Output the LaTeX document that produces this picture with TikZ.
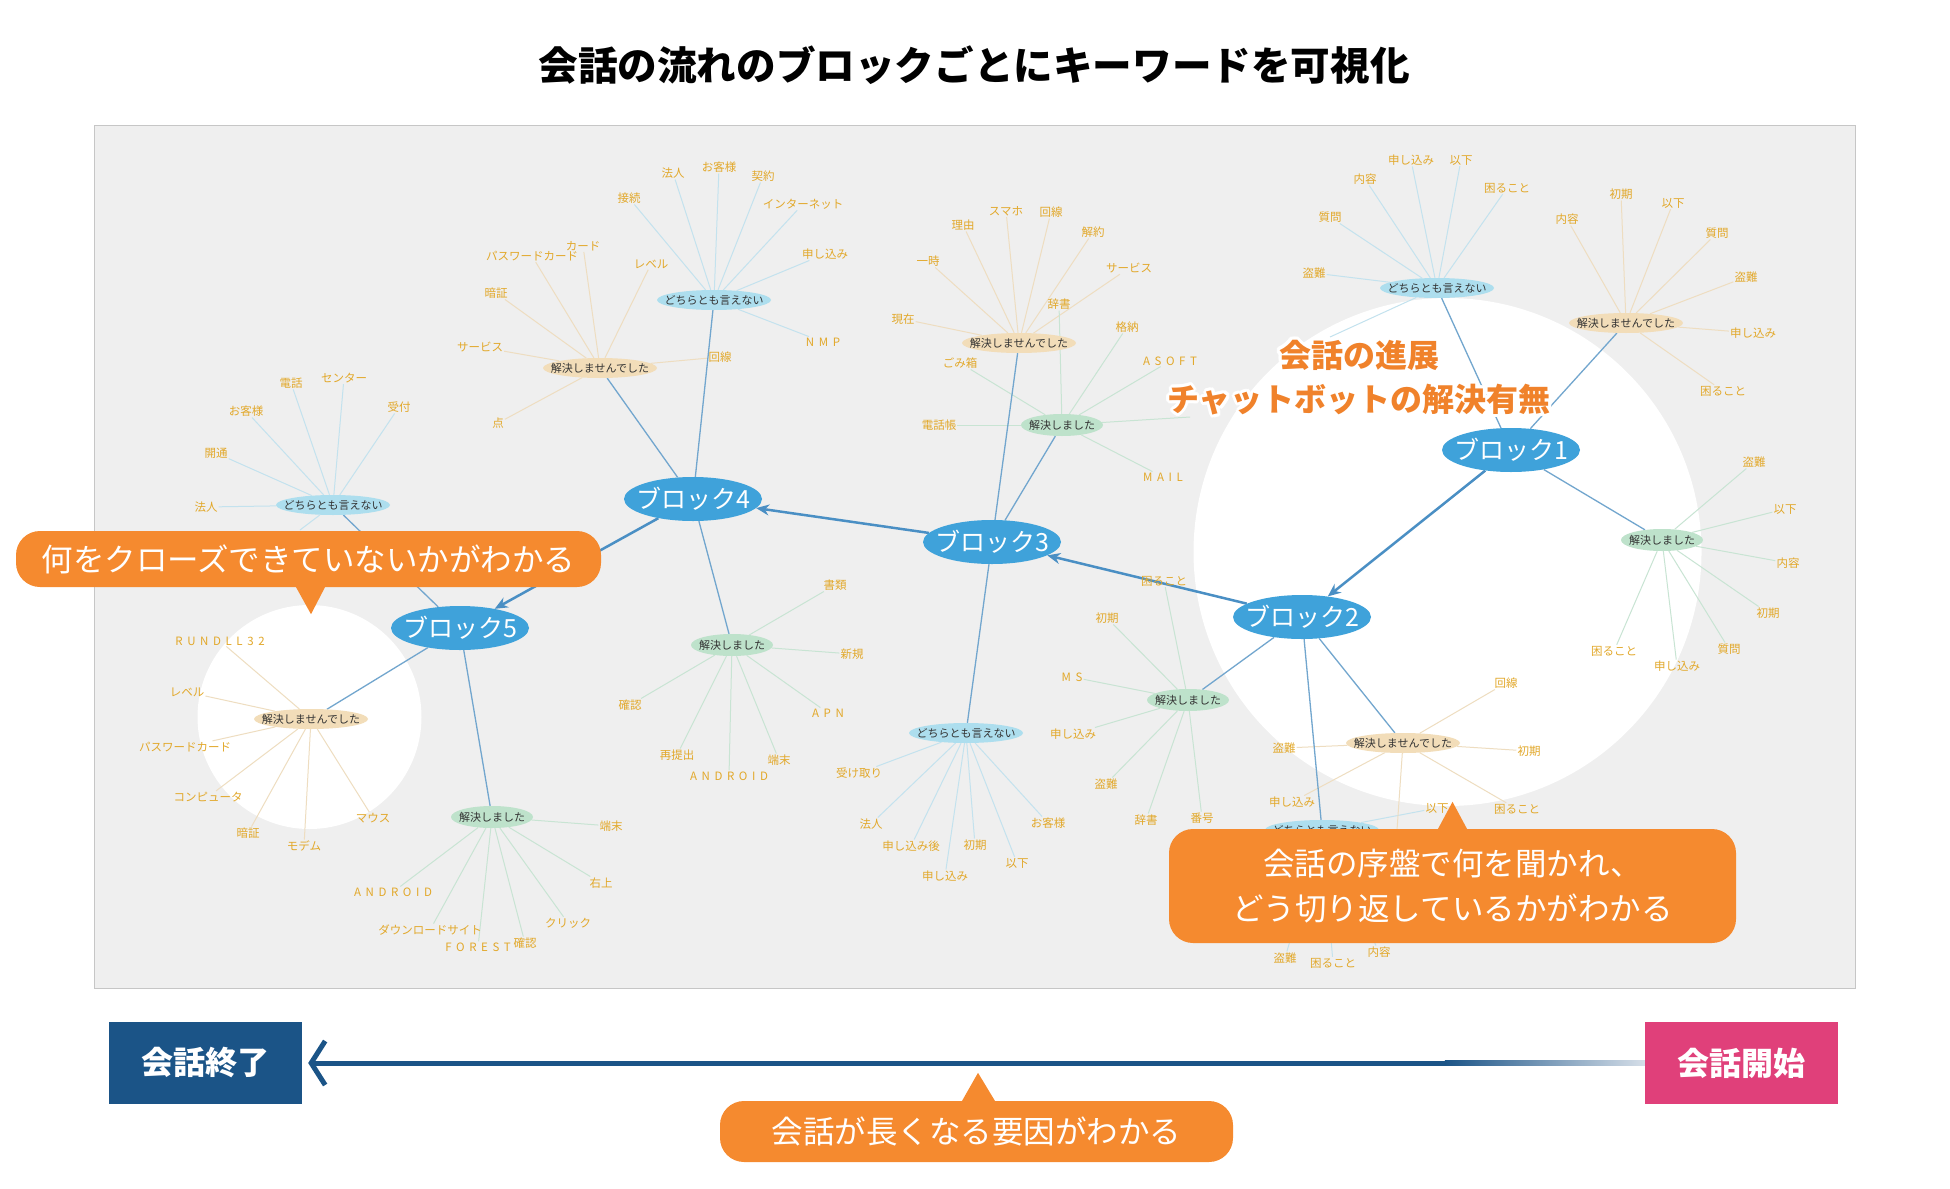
\documentclass[tikz,border=0pt]{standalone}
\usepackage{fontspec}
\setmainfont{Noto Sans CJK JP}
\newfontfamily\spacedlatin[LetterSpace=40]{Noto Sans CJK JP}
\usepackage{contour}
\usepackage{tikz}
\usetikzlibrary{arrows.meta,backgrounds,calc,shapes.geometric}
\definecolor{panelgray}{HTML}{EFEFEF}
\definecolor{panelline}{HTML}{C6C6C6}
\definecolor{blockblue}{HTML}{3FA2DA}
\definecolor{flowblue}{HTML}{4A8FC4}
\definecolor{stemblue}{HTML}{72A6CE}
\definecolor{kwgold}{HTML}{E2A82A}
\definecolor{catblue}{HTML}{ADDEEE}
\definecolor{cattan}{HTML}{F2DDB9}
\definecolor{catgreen}{HTML}{BEE2CB}
\definecolor{lineblue}{HTML}{C3E2EE}
\definecolor{linetan}{HTML}{EEDDC0}
\definecolor{linegreen}{HTML}{C8E4D3}
\definecolor{calloutorange}{HTML}{F58A2F}
\definecolor{headorange}{HTML}{F0822B}
\definecolor{endblue}{HTML}{1B5487}
\definecolor{startpink}{HTML}{E0407A}
\definecolor{fadeblue}{HTML}{D5DEE8}
\contourlength{3pt}

\begin{document}
\begin{tikzpicture}[x=1pt,y=-1pt,
  blk/.style={ellipse,fill=blockblue,text=white,minimum width=138,
             minimum height=44,inner sep=0pt,font=\fontsize{25}{29}\selectfont},
  catb/.style={ellipse,fill=catblue,minimum width=114,minimum height=20,
              inner sep=0pt,text=black!80,font=\fontsize{11}{13}\selectfont},
  catt/.style={catb,fill=cattan},
  catg/.style={catb,fill=catgreen,minimum width=82,minimum height=22},
  kw/.style={text=kwgold,inner sep=1pt,font=\fontsize{11.5}{13}\selectfont},
  lb/.style={lineblue,line width=1pt},
  lt/.style={linetan,line width=1pt},
  lg/.style={linegreen,line width=1pt},
  stem/.style={stemblue,line width=1.3pt},
  flow/.style={flowblue,line width=2.5pt,-{Stealth[length=13pt,width=11pt]}},
  call/.style={fill=calloutorange,text=white,rounded corners=24pt,inner sep=0pt,
              font=\fontsize{31.5}{45}\selectfont,align=center},
  stage/.style={text=white,inner sep=0pt,minimum width=193,minimum height=82,
               font=\bfseries\fontsize{32}{36}\selectfont},
  adv/.style={text=headorange,font=\bfseries\fontsize{32}{36}\selectfont}
]
\useasboundingbox (0,0) rectangle (1950,1188);

\begin{scope}[on background layer]
  \draw[fill=panelgray,draw=panelline,line width=1.5pt] (94.5,125.6) rectangle (1855.5,988.7);
  \fill[white] (1447.5,552) circle[radius=254pt];
  \fill[white] (309.5,717) circle[radius=112pt];
\end{scope}

\node[font=\bfseries\fontsize{39.6}{45}\selectfont] (title) at (974,65)
  {会話の流れのブロックごとにキーワードを可視化};

% blocks
\node[blk] (b1) at (1511,450) {\makebox[0pt]{ブロック1}};
\node[blk] (b2) at (1302,617) {\makebox[0pt]{ブロック2}};
\node[blk] (b3) at (992,542) {\makebox[0pt]{ブロック3}};
\node[blk] (b4) at (693,499) {\makebox[0pt]{ブロック4}};
\node[blk] (b5) at (460,628) {\makebox[0pt]{ブロック5}};

% categories
\node[catb] (c1a) at (1437,288) {\makebox[0pt]{どちらとも言えない}};
\node[catt] (c1b) at (1626,323) {\makebox[0pt]{解決しませんでした}};
\node[catg] (c1c) at (1662,540) {\makebox[0pt]{解決しました}};
\node[catg] (c2a) at (1188,700) {\makebox[0pt]{解決しました}};
\node[catt] (c2b) at (1403,743) {\makebox[0pt]{解決しませんでした}};
\node[catb] (c2c) at (1322,830) {\makebox[0pt]{どちらとも言えない}};
\node[catt] (c3a) at (1019,343) {\makebox[0pt]{解決しませんでした}};
\node[catg] (c3b) at (1062,425) {\makebox[0pt]{解決しました}};
\node[catb] (c3c) at (966,733) {\makebox[0pt]{どちらとも言えない}};
\node[catb] (c4a) at (714,300) {\makebox[0pt]{どちらとも言えない}};
\node[catt] (c4b) at (600,368) {\makebox[0pt]{解決しませんでした}};
\node[catg] (c4c) at (732,645) {\makebox[0pt]{解決しました}};
\node[catb] (c5a) at (333,505) {\makebox[0pt]{どちらとも言えない}};
\node[catt] (c5b) at (311,719) {\makebox[0pt]{解決しませんでした}};
\node[catg] (c5c) at (492,817) {\makebox[0pt]{解決しました}};

% keywords
\foreach \c/\s/\t/\x/\y [count=\n] in {
  c1a/lb/申し込み/1411/160, c1a/lb/以下/1461/160, c1a/lb/内容/1365/179,
  c1a/lb/困ること/1507/188, c1a/lb/質問/1330/217, c1a/lb/盗難/1314/273,
  c1b/lt/初期/1621/194, c1b/lt/以下/1673/203, c1b/lt/内容/1567/219,
  c1b/lt/質問/1717/233, c1b/lt/盗難/1746/277, c1b/lt/申し込み/1753/333,
  c1b/lt/困ること/1723/391,
  c1c/lg/盗難/1754/462, c1c/lg/以下/1785/509, c1c/lg/内容/1788/563,
  c1c/lg/初期/1768/613, c1c/lg/質問/1729/649, c1c/lg/申し込み/1677/666,
  c1c/lg/困ること/1614/651,
  c2a/lg/困ること/1164/581, c2a/lg/初期/1107/618, c2a/lg/\spacedlatin MS/1072/677,
  c2a/lg/申し込み/1073/734, c2a/lg/盗難/1106/784, c2a/lg/辞書/1146/820,
  c2a/lg/番号/1202/818,
  c2b/lt/回線/1506/683, c2b/lt/盗難/1284/748, c2b/lt/初期/1529/751,
  c2b/lt/申し込み/1292/802, c2b/lt/困ること/1517/809,
  c2c/lb/以下/1437/808, c2c/lb/盗難/1285/958, c2c/lb/困ること/1333/963,
  c2c/lb/内容/1379/952,
  c3a/lt/スマホ/1006/211, c3a/lt/回線/1051/212, c3a/lt/理由/963/225,
  c3a/lt/解約/1093/232, c3a/lt/一時/928/261, c3a/lt/サービス/1129/268,
  c3a/lt/現在/903/319,
  c3b/lg/辞書/1059/304, c3b/lg/格納/1127/327, c3b/lg/ごみ箱/960/363,
  c3b/lg/\spacedlatin ASOFT/1170/361, c3b/lg/電話帳/939/425,
  c3b/lg/\spacedlatin MAIL/1163/477,
  c3c/lb/受け取り/859/773, c3c/lb/法人/871/824, c3c/lb/申し込み後/911/846,
  c3c/lb/申し込み/945/876, c3c/lb/初期/975/845, c3c/lb/以下/1017/863,
  c3c/lb/お客様/1048/823,
  c4a/lb/法人/673/173, c4a/lb/お客様/719/167, c4a/lb/契約/763/176,
  c4a/lb/接続/629/198, c4a/lb/インターネット/803/204, c4a/lb/申し込み/825/254,
  c4a/lb/\spacedlatin NMP/823/342,
  c4b/lt/カード/583/246, c4b/lt/パスワードカード/532/256, c4b/lt/レベル/651/264,
  c4b/lt/暗証/496/293, c4b/lt/サービス/480/347, c4b/lt/点/498/423,
  c4b/lt/回線/720/357,
  c4c/lg/書類/835/585, c4c/lg/新規/852/654, c4c/lg/確認/630/705,
  c4c/lg/\spacedlatin APN/828/713, c4c/lg/再提出/677/755,
  c4c/lg/\spacedlatin ANDROID/729/776, c4c/lg/端末/779/760,
  c5a/lb/電話/291/383, c5a/lb/センター/344/378, c5a/lb/お客様/246/411,
  c5a/lb/受付/399/407, c5a/lb/開通/216/453, c5a/lb/法人/206/507,
  c5b/lt/\spacedlatin RUNDLL32/220/641, c5b/lt/レベル/187/692,
  c5b/lt/パスワードカード/185/747, c5b/lt/コンピュータ/208/797,
  c5b/lt/暗証/248/833, c5b/lt/モデム/304/846, c5b/lt/マウス/373/818,
  c5c/lg/端末/611/826, c5c/lg/右上/601/883, c5c/lg/クリック/568/923,
  c5c/lg/確認/525/943, c5c/lg/\spacedlatin FOREST/478/947,
  c5c/lg/ダウンロードサイト/430/930, c5c/lg/\spacedlatin ANDROID/393/892}{
  \node[kw] (k\n) at (\x,\y) {\t};
  \begin{scope}[on background layer]
    \draw[\s] (\c) -- (k\n);
  \end{scope}
}

% keyword lines running under the overlays
\coordinate (h1) at (1330,337);
\coordinate (h2) at (1190,417);
\coordinate (h3) at (300,530);
\coordinate (h4) at (1397,830);

\begin{scope}[on background layer]
  \draw[lb] (c1a) -- (h1);
  \draw[lg] (c3b) -- (h2);
  \draw[lb] (c5a) -- (h3);
  \draw[lt] (c2b) -- (h4);
  \foreach \b in {1,...,5}{
    \draw[stem] (b\b) -- (c\b a);
    \draw[stem] (b\b) -- (c\b b);
    \draw[stem] (b\b) -- (c\b c);
  }
  \draw[flow] (b1) -- (b2);
  \draw[flow] (b2) -- (b3);
  \draw[flow] (b3) -- (b4);
  \draw[flow] (b4) -- (b5);
\end{scope}

\node[adv] (prog1) at (1359,357) {\contour{white}{会話の進展}};
\node[adv] (prog2) at (1359,401) {\contour{white}{チャットボットの解決有無}};

% callouts
\node[call,minimum width=585,minimum height=56] (open) at (308.5,559)
  {何をクローズできていないかがわかる};
\fill[calloutorange] ($(open.south)+(-13,-1)$) -- ($(open.south)+(2.5,27)$)
  -- ($(open.south)+(17,-1)$) -- cycle;
\node[call,minimum width=567,minimum height=114] (early) at (1452.5,886)
  {会話の序盤で何を聞かれ、\\どう切り返しているかがわかる};
\fill[calloutorange] ($(early.north)+(-15,1)$) -- ($(early.north)+(0,-27)$)
  -- ($(early.north)+(15,1)$) -- cycle;
\node[call,minimum width=513,minimum height=61] (long) at (976.5,1131.5)
  {会話が長くなる要因がわかる};
\fill[calloutorange] ($(long.north)+(-15,1)$) -- ($(long.north)+(1.5,-28)$)
  -- ($(long.north)+(19,1)$) -- cycle;

% time line
\node[stage,fill=endblue] (end) at (205.5,1063) {会話終了};
\node[stage,fill=startpink] (start) at (1741.5,1063) {会話開始};
\coordinate (fade) at ($(start.west)+(-200,0)$);
\shade[left color=endblue,right color=fadeblue] ($(fade)+(0,-2.5)$) rectangle ($(start.west)+(0,2.5)$);
\draw[endblue,line width=5pt,-{Straight Barb[length=14pt,width=44pt]}] (fade) -- ([xshift=6pt]end.east);
\end{tikzpicture}
\end{document}
